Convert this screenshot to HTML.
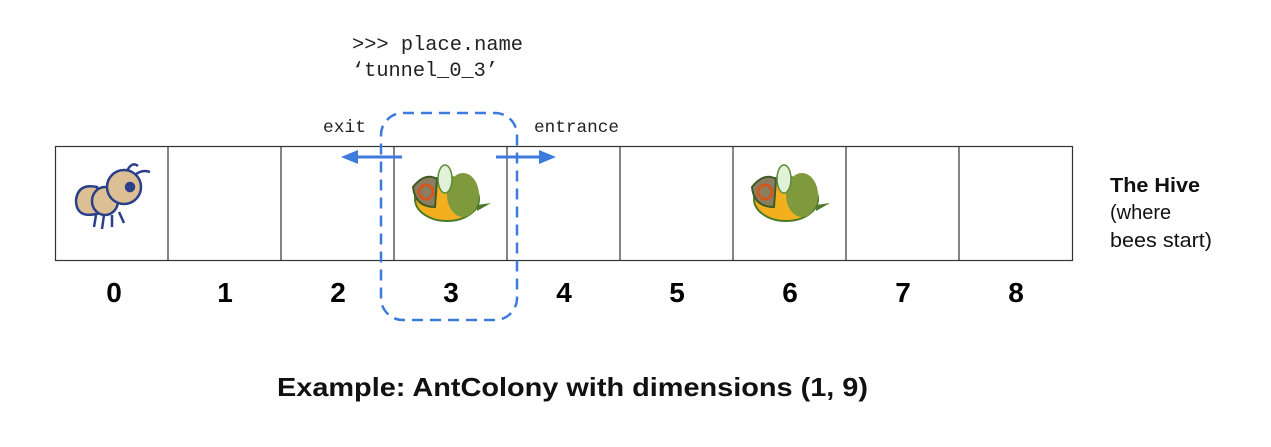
<!DOCTYPE html>
<html><head><style>
body{margin:0;width:1271px;height:442px;background:#fff;overflow:hidden}
</style></head><body>
<svg width="1271" height="442" xmlns="http://www.w3.org/2000/svg">
<g font-family="Liberation Mono, monospace" font-size="20" fill="#222">
<text x="352" y="50" textLength="171" lengthAdjust="spacingAndGlyphs">&gt;&gt;&gt; place.name</text>
<text x="352" y="76" textLength="146" lengthAdjust="spacingAndGlyphs">‘tunnel_0_3’</text>
</g>
<g font-family="Liberation Mono, monospace" font-size="17.5" fill="#222">
<text x="323" y="132" textLength="43" lengthAdjust="spacingAndGlyphs">exit</text>
<text x="534" y="132" textLength="85" lengthAdjust="spacingAndGlyphs">entrance</text>
</g>
<g fill="none" stroke="#333" stroke-width="1.2">
<rect x="55.5" y="146.5" width="1017" height="114"/>
<line x1="168" y1="146" x2="168" y2="261"/><line x1="281" y1="146" x2="281" y2="261"/>
<line x1="394" y1="146" x2="394" y2="261"/><line x1="507" y1="146" x2="507" y2="261"/>
<line x1="620" y1="146" x2="620" y2="261"/><line x1="733" y1="146" x2="733" y2="261"/>
<line x1="846" y1="146" x2="846" y2="261"/><line x1="959" y1="146" x2="959" y2="261"/>
</g>
<!-- ant -->
<g transform="translate(72,165)" stroke="#2b3f8a" stroke-width="2.5" fill="#dcbf94">
<path d="M25 22 Q6 18 4 35 Q4 55 28 48 Z"/>
<ellipse cx="33" cy="36" rx="13" ry="14"/>
<circle cx="52" cy="22" r="17"/>
<circle cx="58" cy="22" r="4" fill="#2b3f8a"/>
<path d="M55 6 Q60 -4 66 1 M63 10 Q70 4 78 7" fill="none"/>
<path d="M24 50 L22 62 M32 50 L30 64 M40 50 L40 62 M47 47 L52 58" fill="none"/>
</g>
<!-- bees -->
<g id="bee">
<g transform="translate(405,167)">
<ellipse cx="42" cy="32" rx="32" ry="22" fill="#f2b01e" stroke="#4d7a2a" stroke-width="2"/>
<ellipse cx="58" cy="28" rx="16" ry="22" fill="#7f9a3c"/>
<path d="M8 20 Q20 5 32 12 L30 40 Q10 40 8 20Z" fill="#8a7e62" stroke="#3f5a24" stroke-width="2"/>
<circle cx="21" cy="25" r="7" fill="none" stroke="#d0571e" stroke-width="3"/>
<ellipse cx="40" cy="12" rx="7" ry="14" fill="#e2f2d8" stroke="#5a8a3a" stroke-width="1.5"/>
<path d="M72 38 L86 36 L72 44Z" fill="#4d7a2a"/>
</g>
</g>
<use href="#bee" transform="translate(339,0)"/>
<!-- dashed box -->
<rect x="381" y="113" width="136" height="207" rx="22" fill="none" stroke="#3c7bdc" stroke-width="2.5" stroke-dasharray="11,7"/>
<!-- arrows -->
<g stroke="#3c7bdc" stroke-width="3" fill="#3c7bdc">
<line x1="402" y1="157" x2="356" y2="157"/>
<path d="M341 157 L358 150 L358 164Z" stroke="none"/>
<line x1="496" y1="157" x2="540" y2="157"/>
<path d="M556 157 L539 150 L539 164Z" stroke="none"/>
</g>
<g font-family="Liberation Sans, sans-serif" font-weight="bold" font-size="28" fill="#000" text-anchor="middle">
<text x="114" y="302">0</text><text x="225" y="302">1</text><text x="338" y="302">2</text>
<text x="451" y="302">3</text><text x="564" y="302">4</text><text x="677" y="302">5</text>
<text x="790" y="302">6</text><text x="903" y="302">7</text><text x="1016" y="302">8</text>
</g>
<g font-family="Liberation Sans, sans-serif" font-size="20" fill="#111">
<text x="1110" y="192" font-weight="bold" textLength="90" lengthAdjust="spacingAndGlyphs">The Hive</text>
<text x="1110" y="219">(where</text>
<text x="1110" y="247" textLength="102" lengthAdjust="spacingAndGlyphs">bees start)</text>
</g>
<text x="277" y="396" textLength="591" lengthAdjust="spacingAndGlyphs" font-family="Liberation Sans, sans-serif" font-weight="bold" font-size="26" fill="#111">Example: AntColony with dimensions (1, 9)</text>
</svg>
</body></html>
